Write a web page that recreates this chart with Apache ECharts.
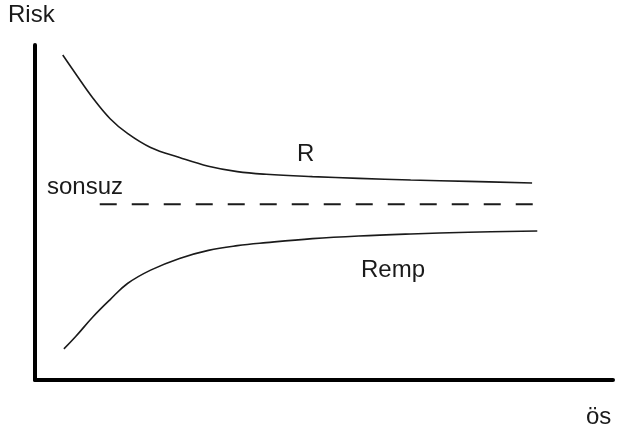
<!DOCTYPE html>
<html><head><meta charset="utf-8">
<script src="https://cdn.jsdelivr.net/npm/echarts@6/dist/echarts.min.js"></script>
<style>html,body{margin:0;padding:0;background:#fff}#c{width:617px;height:436px}</style>
</head><body><div id="c"></div>
<script>
// Sample size (ös) positions, abstract units 0..100
const rX = [4.8, 7, 10, 13, 16, 20, 25, 30, 35, 40, 48, 56, 65, 75, 86];
const rY = [97.0, 91.5, 84.2, 78.0, 73.6, 69.4, 66.4, 63.8, 62.2, 61.4, 60.7, 60.2, 59.7, 59.3, 58.8];
const rempX = [5.0, 7, 10, 13, 16, 20, 25, 30, 35, 40, 48, 56, 65, 75, 86.9];
const rempY = [9.3, 12.9, 18.8, 24.0, 28.8, 32.8, 36.3, 38.7, 40.1, 41.0, 42.2, 43.0, 43.6, 44.1, 44.5];
const limitX = [11.2, 86.9];
const limitY = 52.5;
const labels = { yAxis: 'Risk', xAxis: 'ös', limit: 'sonsuz', r: 'R', remp: 'Remp' };

const zip = (xs, ys) => xs.map((x, i) => [x, ys[i]]);
const chart = echarts.init(document.getElementById('c'), null, { renderer: 'canvas' });
const font = '24px "Liberation Sans", Arial, sans-serif';
const lineStyle = { color: '#1a1a1a', width: 1.6 };
chart.setOption({
  animation: false,
  backgroundColor: '#fff',
  grid: { left: 35, right: 4, top: 45, bottom: 56, containLabel: false },
  xAxis: { type: 'value', min: 0, max: 100, axisLine: { lineStyle: { color: '#000', width: 4 } },
           axisTick: { show: false }, axisLabel: { show: false }, splitLine: { show: false } },
  yAxis: { type: 'value', min: 0, max: 100, axisLine: { show: true, lineStyle: { color: '#000', width: 4 } },
           axisTick: { show: false }, axisLabel: { show: false }, splitLine: { show: false } },
  series: [
    { type: 'line', data: zip(rX, rY), smooth: 0.4, showSymbol: false, lineStyle },
    { type: 'line', data: zip(rempX, rempY), smooth: 0.4, showSymbol: false, lineStyle },
    { type: 'line', data: limitX.map(x => [x, limitY]), showSymbol: false,
      lineStyle: { color: '#1a1a1a', width: 2, type: [17, 15] } }
  ],
  graphic: [
    { type: 'text', left: 8, top: 3, style: { text: labels.yAxis, font, fill: '#1a1a1a' } },
    { type: 'text', left: 586, top: 405, style: { text: labels.xAxis, font, fill: '#1a1a1a' } },
    { type: 'text', left: 47, top: 175, style: { text: labels.limit, font, fill: '#1a1a1a' } },
    { type: 'text', left: 297, top: 142, style: { text: labels.r, font, fill: '#1a1a1a' } },
    { type: 'text', left: 361, top: 258, style: { text: labels.remp, font, fill: '#1a1a1a' } }
  ]
});
</script></body></html>
